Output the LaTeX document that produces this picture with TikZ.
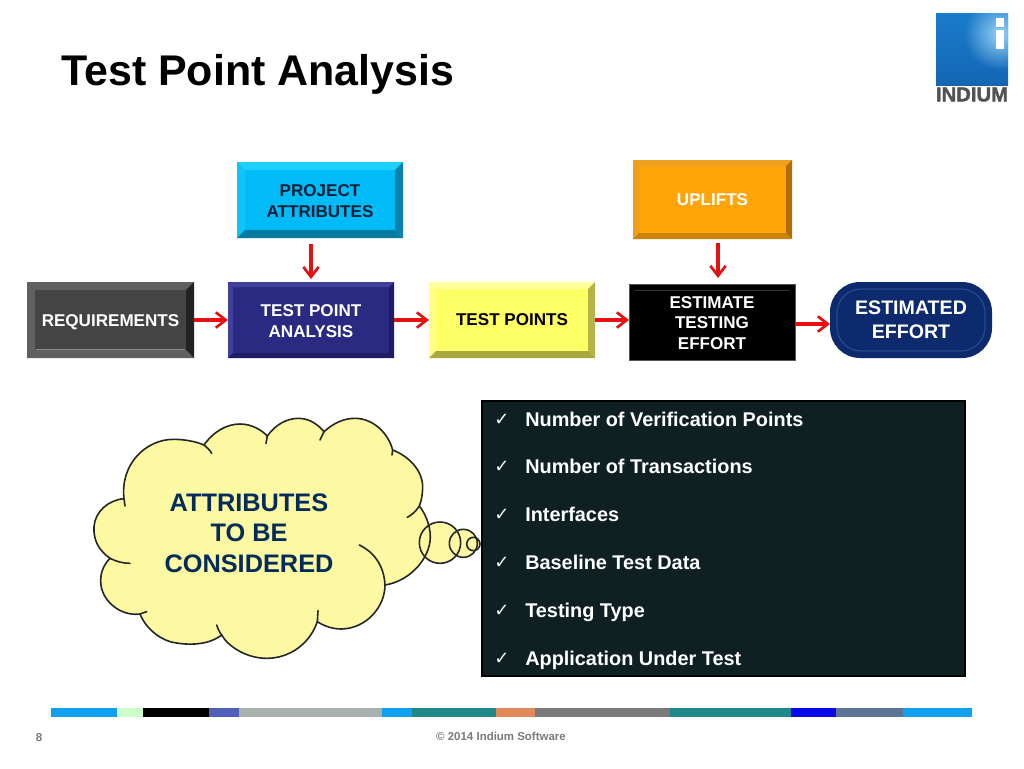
\documentclass[tikz,border=0pt]{standalone}
\usepackage{fontspec}
\setmainfont{Liberation Sans}
\newfontfamily\dejavu{DejaVu Sans}
\newfontfamily\logofont[FakeBold=1.6]{Liberation Sans Bold}
\usetikzlibrary{calc,arrows.meta,fadings,shadings}
\definecolor{arrowred}{HTML}{E61010}
\definecolor{cloudfill}{HTML}{FDF9A2}
\definecolor{navytext}{HTML}{032B5C}
\definecolor{panelfill}{HTML}{0F2022}
\definecolor{reqmain}{HTML}{444444}\definecolor{reqlight}{HTML}{606060}\definecolor{reqdark}{HTML}{222222}\definecolor{reqline}{HTML}{8A8A8A}
\definecolor{tpamain}{HTML}{2B2A82}\definecolor{tpalight}{HTML}{40409C}\definecolor{tpadark}{HTML}{1E1D62}
\definecolor{tpmain}{HTML}{FFFF66}\definecolor{tptop}{HTML}{FFFF9C}\definecolor{tpleft}{HTML}{FFFF8A}\definecolor{tpright}{HTML}{B4B448}\definecolor{tpbot}{HTML}{A8A83E}
\definecolor{pamain}{HTML}{00BBF5}\definecolor{patop}{HTML}{1ED0FF}\definecolor{paleft}{HTML}{10C4F8}\definecolor{paright}{HTML}{0882AA}\definecolor{pabot}{HTML}{067AA0}\definecolor{patext}{HTML}{0A1E38}
\definecolor{upmain}{HTML}{FFA50A}\definecolor{uptop}{HTML}{EBA01E}\definecolor{upright}{HTML}{AF6E08}\definecolor{upbot}{HTML}{CD820A}
\definecolor{eemain}{HTML}{0E2A6E}\definecolor{eerim}{HTML}{244A8E}
\definecolor{estline}{HTML}{333333}\definecolor{estrim}{HTML}{555555}
\definecolor{logotop}{HTML}{1A7CCC}\definecolor{logobot}{HTML}{1466B4}\definecolor{logoglow}{HTML}{9AD2F5}
\tikzfading[name=logohalo,inner color=transparent!0,outer color=transparent!100]
\newcommand{\tl}{\rule{0pt}{10.6pt}}
\tikzset{
  wh/.style 2 args={minimum width=#1*0.75pt,minimum height=#2*0.75pt},
  flowbox/.style={rectangle,inner sep=0pt,outer sep=0pt,align=center,font=\fontsize{12.8}{15.7}\selectfont\bfseries},
  flowarrow/.style={draw=arrowred,line width=2.4pt,-{Straight Barb[length=7.5pt,width=11.5pt,line width=2pt]}},
  cloudline/.style={draw=black!85,line width=1.2pt,line cap=round},
  listitem/.style={anchor=base west,text=white,inner sep=0pt,font=\fontsize{14.9}{17}\selectfont\bfseries},
  tickmark/.style={anchor=base west,text=white,inner sep=0pt,font=\fontsize{13.5}{16}\selectfont\dejavu},
  foot/.style={text=black!52,inner sep=0pt,font=\fontsize{8.6}{10}\selectfont\bfseries}
}
\newcommand{\bevelbox}[6]{%
  \fill[#3] (#1.north west) -- (#1.north east) -- ($(#1.north east)+(-#2,#2)$) -- ($(#1.north west)+(#2,#2)$) -- cycle;
  \fill[#4] (#1.north west) -- (#1.south west) -- ($(#1.south west)+(#2,-#2)$) -- ($(#1.north west)+(#2,#2)$) -- cycle;
  \fill[#5] (#1.north east) -- (#1.south east) -- ($(#1.south east)+(-#2,-#2)$) -- ($(#1.north east)+(-#2,#2)$) -- cycle;
  \fill[#6] (#1.south west) -- (#1.south east) -- ($(#1.south east)+(-#2,-#2)$) -- ($(#1.south west)+(#2,-#2)$) -- cycle;
}
\begin{document}
\begin{tikzpicture}[x=0.75pt,y=-0.75pt]
\useasboundingbox (0,0) rectangle (1024,768);
\fill[white] (0,0) rectangle (1024,768);

% title
\node[anchor=base west,inner sep=0pt,font=\fontsize{32.2}{36}\selectfont\bfseries] (title) at (61,85) {Test Point Analysis};

% logo
\begin{scope}
  \clip (936,13) rectangle (1008,85);
  \shade[top color=logotop,bottom color=logobot] (936,13) rectangle (1008,85);
  \fill[logoglow,path fading=logohalo] (1000,34) circle (36);
\end{scope}
\fill[white] (996,18) rectangle (1004,27);
\fill[white] (996,30) rectangle (1004,49);
\node[inner sep=0pt,text=black!68,font=\fontsize{15.2}{16}\logofont] (logotext) at (972,94.5) {INDIUM};

% flow boxes
\node[flowbox,wh={167}{76},fill=reqmain,text=white] (req) at (110.5,320) {\rule{0pt}{12pt}REQUIREMENTS};
\bevelbox{req}{8}{reqlight}{reqlight}{reqdark}{reqlight}
\draw[reqline,line width=.6pt] ($(req.south west)+(9,-9)$) -- ($(req.south east)+(-9,-9)$);

\node[flowbox,wh={166}{76},fill=tpamain,text=white] (tpa) at (311,320) {\tl TEST POINT\\ANALYSIS};
\bevelbox{tpa}{5}{tpalight}{tpalight}{tpadark}{tpadark}

\node[flowbox,wh={166}{76},fill=tpmain,text=black] (tp) at (512,320) {TEST POINTS};
\bevelbox{tp}{7}{tptop}{tpleft}{tpright}{tpbot}

\node[flowbox,wh={166}{76},fill=black,text=white] (est) at (712,322) {\tl ESTIMATE\\TESTING\\EFFORT};
\draw[estrim,line width=.5pt] (est.north west) rectangle (est.south east);
\draw[estline,line width=.7pt] ($(est.north west)+(6,6)$) -- ($(est.north east)+(-6,6)$);

\node[flowbox,wh={166}{76},fill=pamain,text=patext] (pa) at (320,200) {\tl PROJECT\\ATTRIBUTES};
\bevelbox{pa}{8}{patop}{paleft}{paright}{pabot}

\node[flowbox,wh={159}{79},fill=upmain,text=white] (up) at (712.5,199.5) {UPLIFTS};
\bevelbox{up}{6}{uptop}{uptop}{upright}{upbot}

\node[flowbox,wh={162}{76},rounded corners=22.5pt,fill=eemain,text=white,font=\fontsize{14.7}{18.2}\selectfont\bfseries] (ee) at (911,320) {ESTIMATED\\EFFORT};
\draw[eerim,line width=.9pt,rounded corners=18pt] ($(ee.north west)+(7,7)$) rectangle ($(ee.south east)+(-7,-7)$);

% connectors
\draw[flowarrow] (req.east) -- (tpa.west);
\draw[flowarrow] (tpa.east) -- (tp.west);
\draw[flowarrow] (tp.east) -- (tp.east -| est.west);
\draw[flowarrow] ([yshift=-1.5pt]est.east) -- ([yshift=-1.5pt]est.east -| ee.west);
\draw[flowarrow,shorten <=4.5pt,shorten >=2.2pt] (tpa.north |- pa.south) -- (tpa.north);
\draw[flowarrow,shorten <=3pt,shorten >=4.5pt] ([xshift=4.5pt]est.north |- up.south) -- ([xshift=4.5pt]est.north);

% cloud
\begin{scope}[shift={(80,400)},scale=0.33333]
  \def\cloudpath{(132,296) .. controls (120,190) and (200,118) .. (280,118) .. controls (315,118) and (350,125) .. (372,135)
   .. controls (400,95) and (440,72) .. (480,72) .. controls (515,72) and (545,90) .. (562,108)
   .. controls (585,75) and (620,55) .. (655,55) .. controls (690,55) and (715,75) .. (732,95)
   .. controls (760,70) and (790,55) .. (825,55) .. controls (880,55) and (925,100) .. (938,150)
   .. controls (990,170) and (1030,215) .. (1028,265) .. controls (1027,285) and (1025,300) .. (1018,318)
   .. controls (1040,345) and (1055,390) .. (1050,425) .. controls (1040,490) and (980,545) .. (915,555)
   .. controls (915,620) and (860,685) .. (785,687) .. controls (760,687) and (735,680) .. (712,665)
   .. controls (690,730) and (630,775) .. (560,775) .. controls (500,775) and (445,740) .. (425,705)
   .. controls (380,740) and (310,735) .. (270,725) .. controls (230,712) and (195,680) .. (180,642)
   .. controls (120,650) and (60,600) .. (62,540) .. controls (62,520) and (70,495) .. (90,475)
   .. controls (55,450) and (40,420) .. (42,380) .. controls (45,335) and (85,300) .. (132,296) -- cycle}
  \fill[cloudfill] \cloudpath;
  \fill[cloudfill] (1080,428) circle (62);
  \fill[cloudfill] (1150,430) circle (42);
  \fill[cloudfill] (1180,432) circle (20);
  \draw[cloudline] \cloudpath;
  \draw[cloudline] (132,296) -- (135,318);
  \draw[cloudline] (372,135) .. controls (380,142) and (390,150) .. (395,160);
  \draw[cloudline] (562,108) -- (558,130);
  \draw[cloudline] (732,95) -- (720,120);
  \draw[cloudline] (938,150) -- (936,165);
  \draw[cloudline] (1018,318) .. controls (1010,332) and (995,345) .. (982,352);
  \draw[cloudline] (915,555) .. controls (912,495) and (880,455) .. (838,435);
  \draw[cloudline] (712,665) -- (714,632);
  \draw[cloudline] (410,675) .. controls (414,688) and (420,698) .. (425,705);
  \draw[cloudline] (180,642) -- (200,635);
  \draw[cloudline] (90,475) .. controls (110,485) and (130,490) .. (150,490);
  \draw[cloudline] (1080,428) circle (62);
  \draw[cloudline] (1150,430) circle (42);
  \draw[cloudline] (1180,432) circle (20);
\end{scope}
\node[align=center,inner sep=0pt,text=navytext,font=\fontsize{19}{22.9}\selectfont\bfseries] (cloudtext) at (249,533) {ATTRIBUTES\\TO BE\\CONSIDERED};

% list panel
\draw[fill=panelfill,draw=black,line width=1.5pt] (481.5,400.5) rectangle (965,675.5);
\foreach \n/\yy/\txt in {1/426/Number of Verification Points,2/473/Number of Transactions,3/521/Interfaces,4/569/Baseline Test Data,5/617/Testing Type,6/665/Application Under Test}{
  \node[tickmark] (tick\n) at (494,\yy-1) {✓};
  \node[listitem] (item\n) at (525,\yy) {\txt};
}

% footer bar
\foreach \a/\b/\c in {51/117/0FA0F0,117/143/CCFFCC,143/209/000000,209/239/5060B8,239/382/A8B0B0,382/412/0FA0F0,412/496/1E8A88,496/535/E08A5C,535/670/7A7A7A,670/791/1E8A88,791/836/0808E8,836/903/5E7494,903/972/0FA0F0}{
  \definecolor{segcolor}{HTML}{\c}
  \fill[segcolor] (\a,708) rectangle (\b,717);
}
\node[foot] (pageno) at (39,738) {8};
\node[foot] (copyright) at (501,736) {© 2014 Indium Software};
\end{tikzpicture}
\end{document}
